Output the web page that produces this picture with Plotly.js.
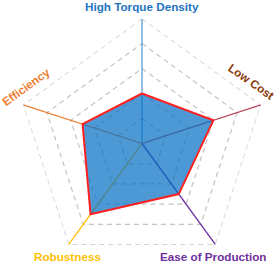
<!DOCTYPE html>
<html>
<head>
<meta charset="utf-8">
<script src="https://cdn.plot.ly/plotly-3.0.1.min.js"></script>
<style>
html,body{margin:0;padding:0;overflow:hidden;background:#fff;}
#chart{width:276px;height:280px;}
</style>
</head>
<body>
<div id="chart"></div>
<script>
// ---- data ----
const categories = ["High Torque Density", "Low Cost", "Ease of Production", "Robustness", "Efficiency"];
const scores = [2, 3, 2.5, 3.5, 2.5];
const gridLevels = [1, 2, 3, 4, 5];
const maxScore = 5;
const spokeColors = ["#5b9bd5", "#b8455e", "#7030a0", "#ffc000", "#ed7d31"];
const labelColors = ["#1f74c4", "#8b3a0c", "#7030a0", "#ffc000", "#ed7d31"];

// ---- geometry (pixels) ----
const W = 276, H = 280;
const cx = 142, cy = 143.5, R = 125;

const traces = [];
// dashed pentagon grid
gridLevels.forEach(l => {
  traces.push({
    type: "scatterpolar", mode: "lines",
    r: categories.map(() => l).concat([l]),
    theta: categories.concat([categories[0]]),
    line: {color: "#c4c4c4", width: 1.2, dash: "5px,4px"},
    hoverinfo: "skip", showlegend: false
  });
});
// coloured spokes
categories.forEach((c, i) => {
  traces.push({
    type: "scatterpolar", mode: "lines",
    r: [0, maxScore], theta: [c, c],
    line: {color: spokeColors[i], width: 1.3},
    hoverinfo: "skip", showlegend: false
  });
});
// filled score polygon
traces.push({
  type: "scatterpolar", mode: "lines",
  r: scores.concat([scores[0]]),
  theta: categories.concat([categories[0]]),
  fill: "toself", fillcolor: "rgba(0,110,195,0.7)",
  line: {color: "#ff2020", width: 2},
  showlegend: false
});
// centre dot
traces.push({
  type: "scatterpolar", mode: "markers",
  r: [0], theta: [categories[0]],
  marker: {size: 7, color: "#1b4f8c", line: {color: "#123a6a", width: 1}},
  showlegend: false
});

// label placement
const labelPos = [
  {x: 142, y: 6.5, a: 0},
  {x: 251.5, y: 81.5, a: 35},
  {x: 213, y: 256.5, a: 0},
  {x: 67.5, y: 256.5, a: 0},
  {x: 26, y: 86.5, a: -36}
];
const annotations = categories.map((c, i) => ({
  text: "<b>" + c + "</b>",
  xref: "paper", yref: "paper",
  x: labelPos[i].x / W, y: 1 - labelPos[i].y / H,
  xanchor: "center", yanchor: "middle",
  textangle: labelPos[i].a,
  showarrow: false,
  font: {family: "Liberation Sans, Arial, sans-serif", size: 11.7, color: labelColors[i]}
}));

const layout = {
  width: W, height: H,
  margin: {l: 0, r: 0, t: 0, b: 0},
  paper_bgcolor: "#fff",
  showlegend: false,
  polar: {
    domain: {x: [(cx - R) / W, (cx + R) / W], y: [1 - (cy + R) / H, 1 - (cy - R) / H]},
    bgcolor: "rgba(0,0,0,0)",
    gridshape: "linear",
    radialaxis: {visible: false, range: [0, maxScore]},
    angularaxis: {visible: false, direction: "clockwise", rotation: 90,
                  categoryorder: "array", categoryarray: categories}
  },
  annotations: annotations
};

Plotly.newPlot("chart", traces, layout, {staticPlot: true, displayModeBar: false});
</script>
</body>
</html>
